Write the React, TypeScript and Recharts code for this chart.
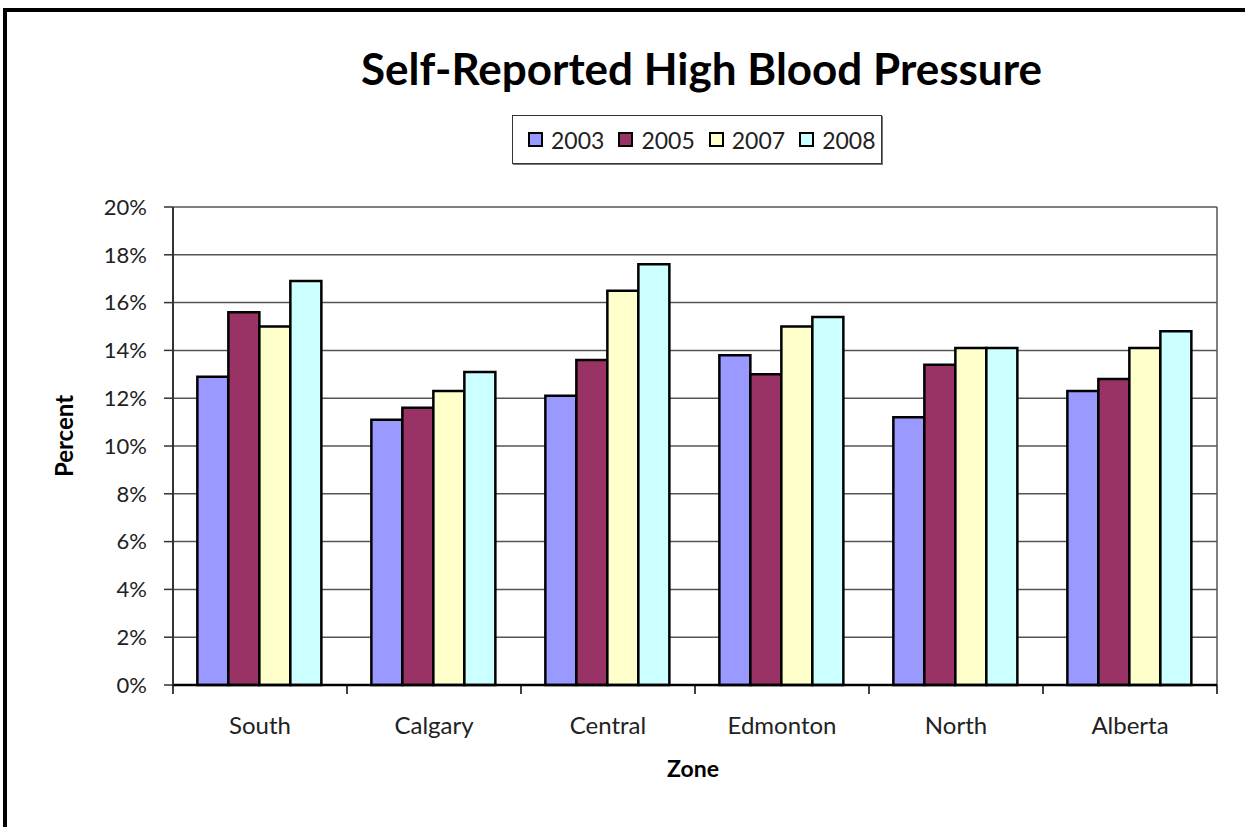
import React from 'react';
import { BarChart, Bar, XAxis, YAxis, CartesianGrid } from 'recharts';

const zones = ['South', 'Calgary', 'Central', 'Edmonton', 'North', 'Alberta'];
const y2003 = [12.9, 11.1, 12.1, 13.8, 11.2, 12.3];
const y2005 = [15.6, 11.6, 13.6, 13.0, 13.4, 12.8];
const y2007 = [15.0, 12.3, 16.5, 15.0, 14.1, 14.1];
const y2008 = [16.9, 13.1, 17.6, 15.4, 14.1, 14.8];
const percentTicks = [0, 2, 4, 6, 8, 10, 12, 14, 16, 18, 20];

const seriesList = [
  { key: 'y2003', name: '2003', color: '#9999FF' },
  { key: 'y2005', name: '2005', color: '#993366' },
  { key: 'y2007', name: '2007', color: '#FFFFCC' },
  { key: 'y2008', name: '2008', color: '#CCFFFF' },
];

const data = zones.map((zone, i) => ({
  zone,
  y2003: y2003[i],
  y2005: y2005[i],
  y2007: y2007[i],
  y2008: y2008[i],
}));

const FONT = 'Lato, "DejaVu Sans", sans-serif';
const TEXT = '#222';
const W = 1245;
const H = 827;
const PLOT_LEFT = 173;
const PLOT_RIGHT = 1217;
const PLOT_TOP = 207;
const PLOT_BOTTOM = 685;
const BAND = (PLOT_RIGHT - PLOT_LEFT) / zones.length;

// category labels plus tick marks on the category boundaries (Excel style)
const ZoneTick = (props: any) => {
  const { x, y, payload, index } = props;
  const left = x - BAND / 2;
  return (
    <g>
      <line x1={left} y1={PLOT_BOTTOM} x2={left} y2={PLOT_BOTTOM + 9} stroke="#000" strokeWidth={1.5} />
      {index === zones.length - 1 && (
        <line x1={x + BAND / 2} y1={PLOT_BOTTOM} x2={x + BAND / 2} y2={PLOT_BOTTOM + 9} stroke="#000" strokeWidth={1.5} />
      )}
      <text x={x} y={y + 41} textAnchor="middle" fontSize={24} fill={TEXT} fontFamily={FONT}>
        {payload.value}
      </text>
    </g>
  );
};

const LegendBox = () => (
  <div
    style={{
      position: 'absolute',
      left: 512,
      top: 115,
      width: 370,
      height: 49,
      border: '1px solid #333',
      boxShadow: '1px 1px 0 #777',
      background: '#fff',
      display: 'flex',
      alignItems: 'center',
      paddingLeft: 15,
      gap: 14,
      fontFamily: FONT,
      fontSize: 23,
      color: TEXT,
      boxSizing: 'border-box',
    }}
  >
    {seriesList.map((s) => (
      <span key={s.key} style={{ display: 'flex', alignItems: 'center', gap: 8 }}>
        <span
          style={{
            width: 15,
            height: 15,
            background: s.color,
            border: '2px solid #000',
            boxSizing: 'border-box',
            display: 'inline-block',
          }}
        />
        {s.name}
      </span>
    ))}
  </div>
);

export default function App() {
  return (
    <div style={{ position: 'absolute', left: 0, top: 0, width: W, height: H, overflow: 'hidden', background: '#fff' }}>
      <div
        style={{
          position: 'absolute',
          left: 3,
          top: 8,
          width: W + 20,
          height: H + 20,
          border: '4px solid #000',
        }}
      />
      <div
        style={{
          position: 'absolute',
          left: 0,
          top: 40,
          width: 1403,
          textAlign: 'center',
          fontFamily: FONT,
          fontWeight: 700,
          fontSize: 44,
          lineHeight: '56px',
        }}
      >
        Self-Reported High Blood Pressure
      </div>
      <LegendBox />
      <div style={{ position: 'absolute', left: 0, top: 0 }}>
        <BarChart
          width={W}
          height={H}
          data={data}
          margin={{ top: PLOT_TOP, left: PLOT_LEFT - 60, right: W - PLOT_RIGHT, bottom: H - PLOT_BOTTOM - 60 }}
          barCategoryGap="14%"
          barGap={0}
        >
          <CartesianGrid
            vertical={true}
            stroke="#555"
            strokeWidth={1.5}
            verticalCoordinatesGenerator={() => [PLOT_RIGHT]}
          />
          <XAxis
            dataKey="zone"
            axisLine={{ stroke: '#000', strokeWidth: 2.5 }}
            tickLine={false}
            tick={<ZoneTick />}
            height={60}
            interval={0}
          />
          <YAxis
            width={60}
            domain={[0, 20]}
            ticks={percentTicks}
            tickFormatter={(v: number) => `${v}%`}
            axisLine={{ stroke: '#333', strokeWidth: 2 }}
            tickLine={{ stroke: '#333', strokeWidth: 1.5 }}
            tickSize={9}
            tickMargin={17}
            tick={{ fill: TEXT, fontSize: 22, fontFamily: FONT }}
          />
          {seriesList.map((s) => (
            <Bar
              key={s.key}
              dataKey={s.key}
              name={s.name}
              fill={s.color}
              stroke="#000"
              strokeWidth={2.5}
              isAnimationActive={false}
            />
          ))}
        </BarChart>
      </div>
      <div
        style={{
          position: 'absolute',
          left: 63,
          top: 436,
          transform: 'translate(-50%, -50%) rotate(-90deg)',
          fontFamily: FONT,
          fontWeight: 700,
          fontSize: 24,
          whiteSpace: 'nowrap',
        }}
      >
        Percent
      </div>
      <div
        style={{
          position: 'absolute',
          left: 693,
          top: 768,
          transform: 'translate(-50%, -50%)',
          fontFamily: FONT,
          fontWeight: 700,
          fontSize: 23,
        }}
      >
        Zone
      </div>
    </div>
  );
}
